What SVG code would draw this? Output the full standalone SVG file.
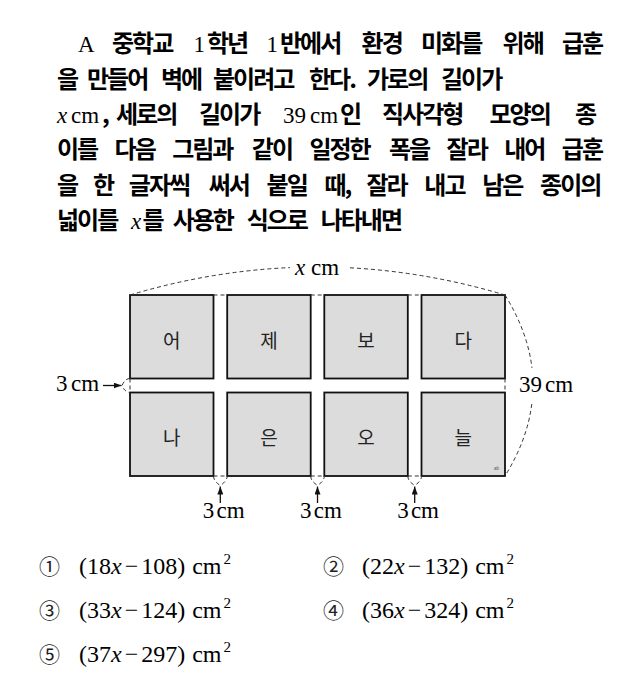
<svg xmlns="http://www.w3.org/2000/svg" width="642" height="694" viewBox="0 0 642 694">
<defs>
<style>
.k{font-family:"Noto Sans CJK KR","Noto Sans",sans-serif;font-weight:700;font-size:24px;letter-spacing:-2px;fill:#000}
.s{font-family:"Liberation Serif","DejaVu Serif",serif;font-size:23px;fill:#000}
.o{font-family:"Liberation Serif","DejaVu Serif",serif;font-size:24px;fill:#000}
.i{font-style:italic}
.sup{font-size:15px}
.cell{fill:#dcdcdc;stroke:#111;stroke-width:1.8}
.lbl{font-family:"Noto Sans CJK KR","Noto Sans",sans-serif;font-size:19px;text-anchor:middle;fill:#222}
.dash{fill:none;stroke:#333;stroke-width:1;stroke-dasharray:4 3}
.arr{fill:none;stroke:#111;stroke-width:1.3;marker-end:url(#ah)}
.num{font-family:"Noto Sans CJK KR","DejaVu Sans",sans-serif;font-size:21px;fill:#222}
</style>
<marker id="ah" viewBox="0 0 8 6" refX="8" refY="3" markerWidth="8" markerHeight="6" orient="auto" markerUnits="userSpaceOnUse"><path d="M0,0 L8,3 L0,6 z" fill="#111"/></marker>
</defs>
<rect width="642" height="694" fill="#fff"/>

<g id="question">
<text class="s" x="78" y="52">A</text>
<text class="k" x="112" y="52">중학교</text>
<text class="s" x="193.6" y="52">1</text><text class="k" x="207" y="52">학년</text>
<text class="s" x="266.6" y="52">1</text><text class="k" x="280" y="52">반에서</text>
<text class="k" x="361.6" y="52">환경</text>
<text class="k" x="421" y="52">미화를</text>
<text class="k" x="502.6" y="52">위해</text>
<text class="k" x="562" y="52">급훈</text>

<text class="k" x="57" y="87.5">을</text>
<text class="k" x="87" y="87.5">만들어</text>
<text class="k" x="161" y="87.5">벽에</text>
<text class="k" x="213" y="87.5">붙이려고</text>
<text class="k" x="309" y="87.5">한다.</text>
<text class="k" x="367" y="87.5">가로의</text>
<text class="k" x="441" y="87.5">길이가</text>

<text class="s i" x="57" y="122.5">x</text>
<text class="s" x="71" y="122.5">cm</text>
<text class="k" x="102" y="122.5">,</text>
<text class="k" x="116" y="122.5">세로의</text>
<text class="k" x="199" y="122.5">길이가</text>
<text class="s" x="283" y="122.5">39</text>
<text class="s" x="310" y="122.5">cm</text>
<text class="k" x="340" y="122.5">인</text>
<text class="k" x="382" y="122.5">직사각형</text>
<text class="k" x="489.5" y="122.5">모양의</text>
<text class="k" x="575" y="122.5">종</text>

<text class="k" x="57" y="157.5">이를</text>
<text class="k" x="114.6" y="157.5">다음</text>
<text class="k" x="172.2" y="157.5">그림과</text>
<text class="k" x="251.8" y="157.5">같이</text>
<text class="k" x="309.4" y="157.5">일정한</text>
<text class="k" x="389" y="157.5">폭을</text>
<text class="k" x="446.6" y="157.5">잘라</text>
<text class="k" x="504.2" y="157.5">내어</text>
<text class="k" x="561.8" y="157.5">급훈</text>

<text class="k" x="57" y="193.5">을</text>
<text class="k" x="92.9" y="193.5">한</text>
<text class="k" x="128.8" y="193.5">글자씩</text>
<text class="k" x="208.7" y="193.5">써서</text>
<text class="k" x="266.6" y="193.5">붙일</text>
<text class="k" x="324.5" y="193.5">때,</text>
<text class="k" x="366.4" y="193.5">잘라</text>
<text class="k" x="424.3" y="193.5">내고</text>
<text class="k" x="482.2" y="193.5">남은</text>
<text class="k" x="540.1" y="193.5">종이의</text>

<text class="k" x="57" y="229">넓이를</text>
<text class="s i" x="131" y="229">x</text>
<text class="k" x="142.5" y="229">를</text>
<text class="k" x="172.7" y="229">사용한</text>
<text class="k" x="246.7" y="229">식으로</text>
<text class="k" x="320.7" y="229">나타내면</text>
</g>

<g id="cell-1"><rect class="cell" x="130" y="295" width="83.5" height="83.5"/><text class="lbl" x="171.8" y="347.5">어</text></g>
<g id="cell-2"><rect class="cell" x="227.2" y="295" width="83.5" height="83.5"/><text class="lbl" x="269" y="347.5">제</text></g>
<g id="cell-3"><rect class="cell" x="324.3" y="295" width="83.5" height="83.5"/><text class="lbl" x="366" y="347.5">보</text></g>
<g id="cell-4"><rect class="cell" x="421.5" y="295" width="83.5" height="83.5"/><text class="lbl" x="463.3" y="347.5">다</text></g>
<g id="cell-5"><rect class="cell" x="130" y="392.5" width="83.5" height="83.5"/><text class="lbl" x="171.8" y="445">나</text></g>
<g id="cell-6"><rect class="cell" x="227.2" y="392.5" width="83.5" height="83.5"/><text class="lbl" x="269" y="445">은</text></g>
<g id="cell-7"><rect class="cell" x="324.3" y="392.5" width="83.5" height="83.5"/><text class="lbl" x="366" y="445">오</text></g>
<g id="cell-8"><rect class="cell" x="421.5" y="392.5" width="83.5" height="83.5"/><text class="lbl" x="463.3" y="445">늘</text><text x="494" y="469.5" font-family="Liberation Sans,sans-serif" font-size="4.5" fill="#555">ab</text></g>

<g id="connectors">
<path class="dash" d="M130,295 Q210,271.1 290,267.6"/>
<path class="dash" d="M350,267.8 Q427.5,271.9 505,295"/>
<path class="dash" d="M505,295 Q527.6,331.5 532,368"/>
<path class="dash" d="M531.8,404 Q527.3,440 505,476"/>
<path class="dash" d="M213.5,295 H227.2 M310.7,295 H324.3 M407.8,295 H421.5"/>
<path class="dash" d="M213.5,476 H227.2 M310.7,476 H324.3 M407.8,476 H421.5"/>
<path class="dash" d="M130,378.5 V392.5 M505,378.5 V392.5"/>
<path class="dash" d="M130,378.5 Q125,378.5 122,385.5 Q125,392.5 130,392.5"/>
<path class="dash" d="M213.5,476 Q213.5,481 220.3,485.5 Q227.2,481 227.2,476"/>
<path class="dash" d="M310.7,476 Q310.7,481 317.5,485.5 Q324.3,481 324.3,476"/>
<path class="dash" d="M407.8,476 Q407.8,481 414.7,485.5 Q421.5,481 421.5,476"/>
<line class="arr" x1="103" y1="385.5" x2="121.5" y2="385.5"/>
<line class="arr" x1="220.3" y1="503" x2="220.3" y2="486.5"/>
<line class="arr" x1="317.5" y1="503" x2="317.5" y2="486.5"/>
<line class="arr" x1="414.7" y1="503" x2="414.7" y2="486.5"/>
</g>

<g id="labels">
<text class="s i" x="295" y="275">x</text><text class="s" x="311" y="275">cm</text>
<text class="s" x="519" y="391.5">39</text><text class="s" x="545" y="391.5">cm</text>
<text class="s" x="56" y="390.5">3</text><text class="s" x="71" y="390.5">cm</text>
<text class="s" x="202.8" y="518">3</text><text class="s" x="216.5" y="518">cm</text>
<text class="s" x="300" y="518">3</text><text class="s" x="313.7" y="518">cm</text>
<text class="s" x="397.2" y="518">3</text><text class="s" x="410.9" y="518">cm</text>
</g>

<g id="options">
<text class="num" x="39" y="574">①</text>
<text class="o" x="79" y="574">(18<tspan class="i">x</tspan><tspan dx="3">−</tspan><tspan dx="3">108)</tspan><tspan dx="7">cm</tspan><tspan class="sup" dx="2" dy="-10">2</tspan></text>
<text class="num" x="323" y="574">②</text>
<text class="o" x="362" y="574">(22<tspan class="i">x</tspan><tspan dx="3">−</tspan><tspan dx="3">132)</tspan><tspan dx="7">cm</tspan><tspan class="sup" dx="2" dy="-10">2</tspan></text>
<text class="num" x="39" y="618">③</text>
<text class="o" x="79" y="618">(33<tspan class="i">x</tspan><tspan dx="3">−</tspan><tspan dx="3">124)</tspan><tspan dx="7">cm</tspan><tspan class="sup" dx="2" dy="-10">2</tspan></text>
<text class="num" x="323" y="618">④</text>
<text class="o" x="362" y="618">(36<tspan class="i">x</tspan><tspan dx="3">−</tspan><tspan dx="3">324)</tspan><tspan dx="7">cm</tspan><tspan class="sup" dx="2" dy="-10">2</tspan></text>
<text class="num" x="39" y="662">⑤</text>
<text class="o" x="79" y="662">(37<tspan class="i">x</tspan><tspan dx="3">−</tspan><tspan dx="3">297)</tspan><tspan dx="7">cm</tspan><tspan class="sup" dx="2" dy="-10">2</tspan></text>
</g>
</svg>
